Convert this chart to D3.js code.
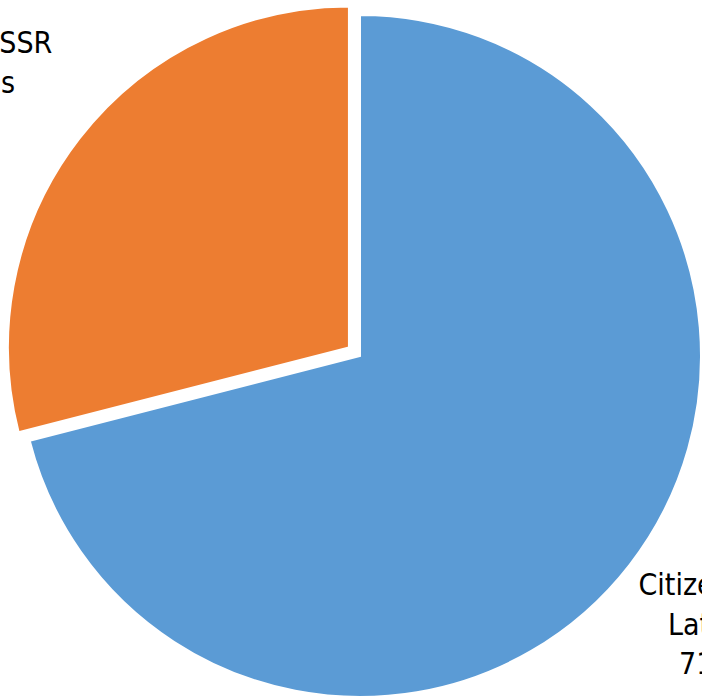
<!DOCTYPE html>
<html>
<head>
<meta charset="utf-8">
<script src="https://cdn.jsdelivr.net/npm/d3@7"></script>
<style>
  html, body { margin: 0; padding: 0; background: #ffffff; overflow: hidden; }
  svg { display: block; }
  .lbl { font-family: "DejaVu Sans Condensed", "DejaVu Sans", sans-serif; font-stretch: condensed; font-size: 30px; fill: #000000; }
</style>
</head>
<body>
<svg id="chart" width="702" height="698"></svg>
<script>
// Population of Latvia by citizenship status
const categories = ["Citizens of\nLatvia", "Former USSR\ncitizens"];
const values = [71, 29];
const colors = ["#5B9BD5", "#ED7D31"];

const width = 702, height = 698;
const cx = 360, cy = 356, radius = 341;
const explodeBy = [0, 14];                 // slice pull-out distance, px
const labelFit = [                          // label distance (× radius) and angular nudge (deg)
  { k: 1.29, turn: -0.3 },
  { k: 1.372, turn: -3.2 }
];
const lineHeight = 39.5;

const svg = d3.select("#chart");
const g = svg.append("g").attr("transform", `translate(${cx},${cy})`);

const data = categories.map((c, i) => ({ name: c, value: values[i], color: colors[i], i }));
const total = d3.sum(values);
const pct = d3.format(".0%");

const pie = d3.pie().value(d => d.value).sort(null).startAngle(0).endAngle(2 * Math.PI);
const arc = d3.arc().innerRadius(0).outerRadius(radius);
const arcs = pie(data);

const off = a => {
  const m = (a.startAngle + a.endAngle) / 2;
  const e = explodeBy[a.data.i];
  return [Math.sin(m) * e, -Math.cos(m) * e];
};

g.selectAll("path.slice")
  .data(arcs)
  .join("path")
  .attr("class", "slice")
  .attr("d", arc)
  .attr("transform", a => `translate(${off(a)})`)
  .attr("fill", a => a.data.color)
  .attr("stroke", "#ffffff")
  .attr("stroke-width", 2)
  .attr("stroke-linejoin", "miter");

const labels = g.selectAll("text.lbl")
  .data(arcs)
  .join("text")
  .attr("class", "lbl")
  .attr("text-anchor", "middle")
  .attr("transform", a => {
    const f = labelFit[a.data.i];
    const m = (a.startAngle + a.endAngle) / 2 + f.turn * Math.PI / 180;
    const r = radius * f.k;
    const [ox, oy] = off(a);
    return `translate(${ox + Math.sin(m) * r},${oy - Math.cos(m) * r})`;
  });

labels.each(function(a) {
  const lines = a.data.name.split("\n").concat(pct(a.data.value / total));
  const n = lines.length;
  const t = d3.select(this);
  lines.forEach((s, k) => {
    t.append("tspan")
      .attr("x", 0)
      .attr("y", (k - (n - 1) / 2) * lineHeight + 11)
      .text(s);
  });
});
</script>
</body>
</html>
